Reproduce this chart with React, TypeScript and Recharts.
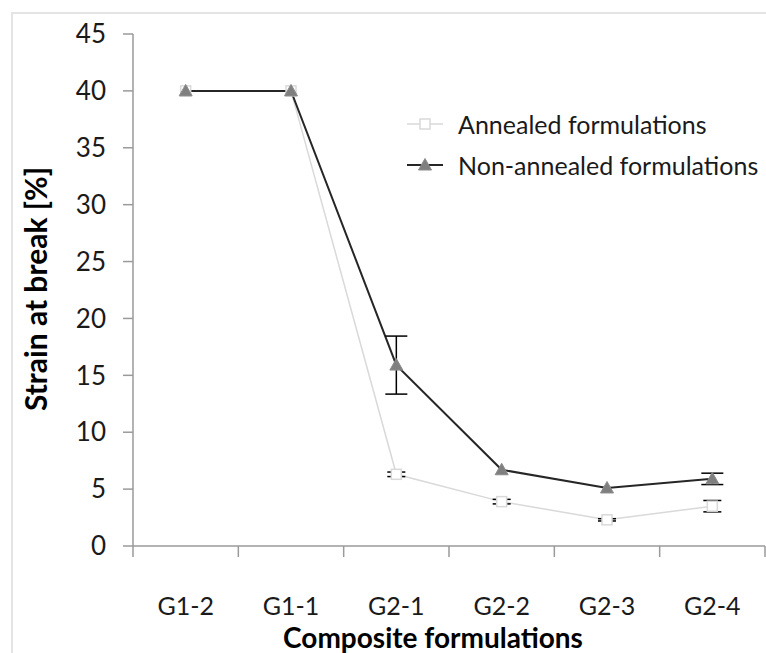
import React from 'react';
import {
  ComposedChart,
  Line,
  XAxis,
  YAxis,
  ErrorBar,
  Label,
} from 'recharts';

const categories = ['G1-2', 'G1-1', 'G2-1', 'G2-2', 'G2-3', 'G2-4'];
const annealed = [40, 40, 6.3, 3.9, 2.3, 3.5];
const annealedErr = [0, 0, 0.2, 0.2, 0.1, 0.5];
const nonAnnealed = [40, 40, 15.9, 6.7, 5.1, 5.9];
const nonAnnealedErr = [0, 0, 2.55, 0, 0, 0.5];
const yTicks = [0, 5, 10, 15, 20, 25, 30, 35, 40, 45];
// category boundaries, where Excel puts the x tick marks
const boundaryTicks = [0, 1, 2, 3, 4, 5, 6];

const data = categories.map((name, i) => ({
  name,
  pos: i + 0.5,
  annealed: annealed[i],
  annealedErr: annealedErr[i],
  nonAnnealed: nonAnnealed[i],
  nonAnnealedErr: nonAnnealedErr[i],
}));

const FONT = 'Lato, "Open Sans", sans-serif';
const AXIS = '#9a9a9a';

const Triangle = (props: any) => {
  const { cx, cy } = props;
  if (cx == null || cy == null) return null;
  return (
    <polygon
      points={`${cx},${cy - 6.5} ${cx + 6.5},${cy + 5} ${cx - 6.5},${cy + 5}`}
      fill="#7f7f7f"
      stroke="#8c8c8c"
      strokeWidth={1}
      strokeLinejoin="round"
    />
  );
};

const Square = (props: any) => {
  const { cx, cy } = props;
  if (cx == null || cy == null) return null;
  return (
    <rect x={cx - 5} y={cy - 5} width={10} height={10} fill="#fff" stroke="#d9d9d9" strokeWidth={1.5} />
  );
};

const legendItems = [
  { label: 'Annealed formulations', stroke: '#d9d9d9', marker: 'square' },
  { label: 'Non-annealed formulations', stroke: '#262626', marker: 'triangle' },
];

const ChartLegend = () => (
  <div style={{ position: 'absolute', left: 407, top: 103, fontFamily: FONT, fontSize: 25, color: '#1a1a1a' }}>
    {legendItems.map((it) => (
      <div key={it.label} style={{ display: 'flex', alignItems: 'center', height: 41, whiteSpace: 'nowrap' }}>
        <svg width={51} height={20}>
          <line x1={0} y1={10} x2={36} y2={10} stroke={it.stroke} strokeWidth={it.marker === 'square' ? 1.5 : 2} />
          {it.marker === 'square' ? <Square cx={18} cy={10} /> : <Triangle cx={18} cy={10} />}
        </svg>
        <span>{it.label}</span>
      </div>
    ))}
  </div>
);

export default function App() {
  return (
    <div style={{ position: 'absolute', left: 0, top: 0, width: 766, height: 653, background: '#fff', overflow: 'hidden' }}>
      <div style={{ position: 'absolute', left: 12, top: 12, width: 754, height: 2, background: '#e4e4e4' }} />
      <div style={{ position: 'absolute', left: 11, top: 12, width: 2, height: 641, background: '#e4e4e4' }} />
      <ComposedChart
        width={766}
        height={653}
        data={data}
        margin={{ top: 34, right: 1, left: 0, bottom: 0 }}
        style={{ position: 'absolute', left: 0, top: 0 }}
      >
        <XAxis
          xAxisId="bounds"
          dataKey="pos"
          type="number"
          domain={[0, 6]}
          allowDataOverflow
          ticks={boundaryTicks}
          interval={0}
          tickFormatter={() => ''}
          tick={{ fill: 'none', fontSize: 1 }}
          tickSize={11}
          height={12}
          axisLine={{ stroke: AXIS, strokeWidth: 1.5 }}
          tickLine={{ stroke: AXIS, strokeWidth: 1.5 }}
        />
        <XAxis
          xAxisId="cat"
          dataKey="name"
          scale="band"
          height={95}
          axisLine={false}
          tickLine={false}
          tickMargin={33}
          tick={{ fontFamily: FONT, fontSize: 25, fill: '#1a1a1a' }}
        >
          <Label
            content={() => (
              <text x={433} y={648} textAnchor="middle" fontFamily={FONT} fontWeight="bold" fontSize={28} fill="#000">
                Composite formulations
              </text>
            )}
          />
        </XAxis>
        <YAxis
          domain={[0, 45]}
          ticks={yTicks}
          width={133}
          tickSize={10}
          tickMargin={17}
          stroke={AXIS}
          strokeWidth={1.5}
          tick={{ fontFamily: FONT, fontSize: 26, fill: '#1a1a1a' }}
        >
          <Label
            content={() => (
              <text
                x={47}
                y={289}
                transform="rotate(-90 47 289)"
                textAnchor="middle"
                fontFamily={FONT}
                fontWeight="bold"
                fontSize={30}
                fill="#000"
              >
                Strain at break [%]
              </text>
            )}
          />
        </YAxis>
        {/* invisible series so the boundary-tick axis gets drawn */}
        <Line
          xAxisId="bounds"
          dataKey="annealed"
          stroke="none"
          dot={false}
          activeDot={false}
          legendType="none"
          isAnimationActive={false}
        />
        <Line
          xAxisId="cat"
          dataKey="annealed"
          name="Annealed formulations"
          stroke="#d9d9d9"
          strokeWidth={1.5}
          dot={<Square />}
          activeDot={false}
          isAnimationActive={false}
        />
        <Line
          xAxisId="cat"
          dataKey="nonAnnealed"
          name="Non-annealed formulations"
          stroke="#262626"
          strokeWidth={2}
          dot={<Triangle />}
          activeDot={false}
          isAnimationActive={false}
        />
        <Line
          xAxisId="cat"
          dataKey="annealed"
          stroke="none"
          dot={false}
          activeDot={false}
          legendType="none"
          isAnimationActive={false}
        >
          <ErrorBar dataKey="annealedErr" direction="y" width={9} stroke="#000" strokeWidth={1.5} />
        </Line>
        <Line
          xAxisId="cat"
          dataKey="nonAnnealed"
          stroke="none"
          dot={false}
          activeDot={false}
          legendType="none"
          isAnimationActive={false}
        >
          <ErrorBar dataKey="nonAnnealedErr" direction="y" width={11} stroke="#000" strokeWidth={1.5} />
        </Line>
      </ComposedChart>
      <ChartLegend />
    </div>
  );
}
